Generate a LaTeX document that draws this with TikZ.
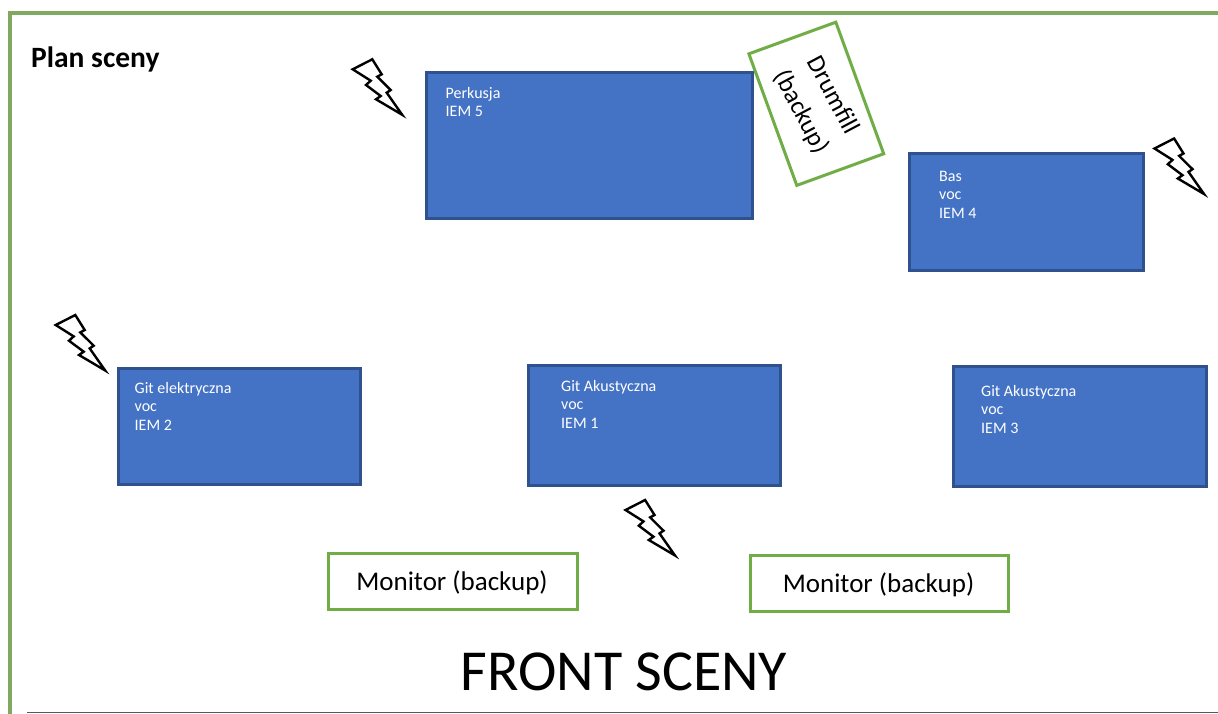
\documentclass[tikz,border=0pt]{standalone}
\usepackage{fontspec}
\setmainfont{Carlito}
\definecolor{blueF}{HTML}{4472C4}
\definecolor{blueE}{HTML}{2F528F}
\definecolor{greenE}{HTML}{70AD47}
\definecolor{frameG}{HTML}{7FA95F}
\tikzset{
  stagebox/.style={draw=blueE,line width=3pt,fill=blueF,inner sep=0pt},
  stagelabel/.style={text=white,font=\fontsize{16}{18.5}\selectfont,align=left,anchor=north west,inner sep=0pt},
  backupbox/.style={draw=greenE,line width=3pt,fill=white,inner sep=0pt},
  backuplabel/.style={text=black,font=\fontsize{27}{30}\selectfont,align=center,inner sep=0pt},
  framelineS/.style={draw=frameG,line width=3.5pt},
  boltS/.style={draw=black,line width=2.4pt,fill=white,line join=miter}
}
\newcommand{\boltat}[2]{%
  \draw[boltS,shift={(#1,#2)}] (0,0)--(19.6,-10)--(29,5)--(24.6,7.4)--(38,20.7)--(34,23.4)--(49.5,45.5)--(23.3,30)--(28,26.7)--(13.3,15.7)--(18,11.4)--cycle;}
\begin{document}
\begin{tikzpicture}[x=1pt,y=-1pt]
\useasboundingbox (0,0) rectangle (1218,714);
\fill[white] (0,0) rectangle (1218,714);
\coordinate (ftl) at (10,13);
\coordinate (ftr) at (1218,13);
\coordinate (fbl) at (10,714);
\coordinate (bl) at (27,712.5);
\coordinate (br) at (1218,712.5);
\draw[framelineS] (fbl)--(ftl)--(ftr);
\draw[draw=black!65,line width=1.5pt] (bl)--(br);
\node[anchor=west,inner sep=0pt,font=\bfseries\fontsize{29.5}{32}\selectfont] (plan) at (31,59) {Plan sceny};
% blue boxes
\node[stagebox,minimum width=326pt,minimum height=146pt,anchor=north west] (perk) at (424.5,71.5) {};
\node[stagelabel] at (445.5,87) {Perkusja\\IEM 5};
\node[stagebox,minimum width=234pt,minimum height=116pt,anchor=north west] (bas) at (907.5,152.5) {};
\node[stagelabel] at (939,171) {Bas\\voc\\IEM 4};
\node[stagebox,minimum width=242pt,minimum height=116pt,anchor=north west] (gite) at (116.5,366.5) {};
\node[stagelabel] at (134.5,382) {Git elektryczna\\voc\\IEM 2};
\node[stagebox,minimum width=252pt,minimum height=120pt,anchor=north west] (gita) at (526.5,363.5) {};
\node[stagelabel] at (561,380) {Git Akustyczna\\voc\\IEM 1};
\node[stagebox,minimum width=253pt,minimum height=120pt,anchor=north west] (gitb) at (952,365) {};
\node[stagelabel] at (981,385) {Git Akustyczna\\voc\\IEM 3};
% drumfill
\node[backupbox,minimum width=140pt,minimum height=92.5pt,rotate=-70] (drum) at (816.3,103.8) {};
\node[backuplabel,rotate=-62,font=\fontsize{25.5}{36}\selectfont] at (816.5,104) {Drumfill\\(backup)};
% monitors
\node[backupbox,minimum width=249pt,minimum height=56pt,anchor=north west] (m1) at (327,551.5) {};
\node[backuplabel] at (452,583) {Monitor (backup)};
\node[backupbox,minimum width=258pt,minimum height=56pt,anchor=north west] (m2) at (749,553.5) {};
\node[backuplabel] at (878.5,585) {Monitor (backup)};
\node[inner sep=0pt,font=\fontsize{58}{62}\selectfont] (front) at (624,672) {FRONT SCENY};
% bolts
\boltat{352.7}{69.3}
\boltat{1154.5}{148.5}
\boltat{55.7}{325}
\boltat{625.5}{510}
\end{tikzpicture}
\end{document}
